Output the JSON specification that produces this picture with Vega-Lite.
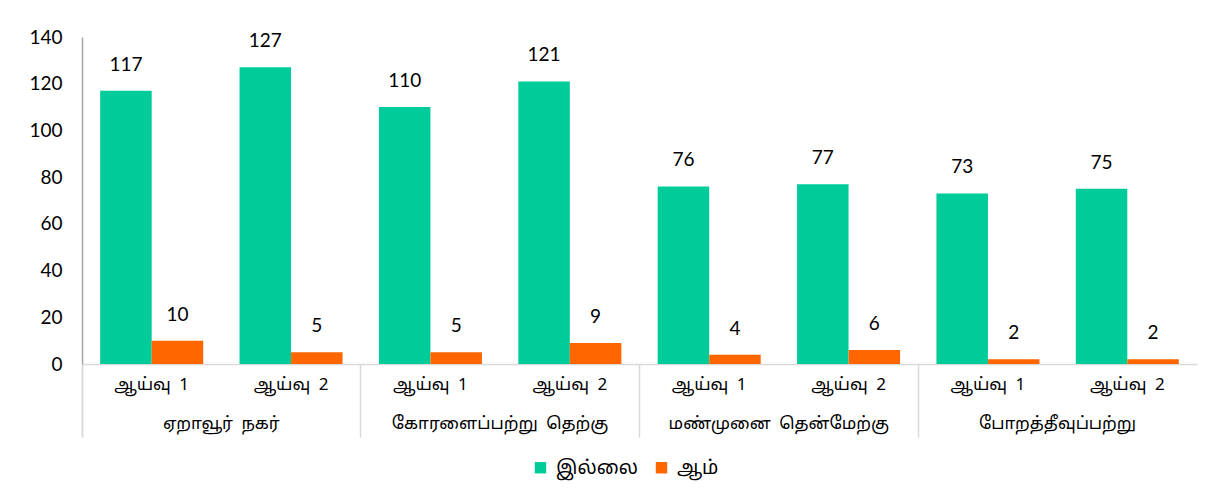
{
  "$schema": "https://vega.github.io/schema/vega-lite/v6.json",
  "width": 1115,
  "height": 327,
  "autosize": {"type": "none"},
  "padding": {"left": 82, "top": 37, "right": 34, "bottom": 138},
  "background": "white",
  "config": {"view": {"stroke": null}, "font": "Lato"},
  "data": {
    "values": [
      {"region": "ஏறாவூர்\u2002நகர்", "survey": "ஆய்வு\u20021", "series": "இல்லை", "value": 117},
      {"region": "ஏறாவூர்\u2002நகர்", "survey": "ஆய்வு\u20021", "series": "ஆம்", "value": 10},
      {"region": "ஏறாவூர்\u2002நகர்", "survey": "ஆய்வு\u20022", "series": "இல்லை", "value": 127},
      {"region": "ஏறாவூர்\u2002நகர்", "survey": "ஆய்வு\u20022", "series": "ஆம்", "value": 5},
      {"region": "கோரளைப்பற்று\u2002தெற்கு", "survey": "ஆய்வு\u20021", "series": "இல்லை", "value": 110},
      {"region": "கோரளைப்பற்று\u2002தெற்கு", "survey": "ஆய்வு\u20021", "series": "ஆம்", "value": 5},
      {"region": "கோரளைப்பற்று\u2002தெற்கு", "survey": "ஆய்வு\u20022", "series": "இல்லை", "value": 121},
      {"region": "கோரளைப்பற்று\u2002தெற்கு", "survey": "ஆய்வு\u20022", "series": "ஆம்", "value": 9},
      {"region": "மண்முனை\u2002தென்மேற்கு", "survey": "ஆய்வு\u20021", "series": "இல்லை", "value": 76},
      {"region": "மண்முனை\u2002தென்மேற்கு", "survey": "ஆய்வு\u20021", "series": "ஆம்", "value": 4},
      {"region": "மண்முனை\u2002தென்மேற்கு", "survey": "ஆய்வு\u20022", "series": "இல்லை", "value": 77},
      {"region": "மண்முனை\u2002தென்மேற்கு", "survey": "ஆய்வு\u20022", "series": "ஆம்", "value": 6},
      {"region": "போறத்தீவுப்பற்று", "survey": "ஆய்வு\u20021", "series": "இல்லை", "value": 73},
      {"region": "போறத்தீவுப்பற்று", "survey": "ஆய்வு\u20021", "series": "ஆம்", "value": 2},
      {"region": "போறத்தீவுப்பற்று", "survey": "ஆய்வு\u20022", "series": "இல்லை", "value": 75},
      {"region": "போறத்தீவுப்பற்று", "survey": "ஆய்வு\u20022", "series": "ஆம்", "value": 2}
    ]
  },
  "transform": [{"calculate": "datum.region + '|' + datum.survey", "as": "key"}],
  "layer": [
    {
      "encoding": {
        "x": {
          "field": "key", "type": "nominal", "sort": null,
          "scale": {"paddingInner": 0, "paddingOuter": 0},
          "axis": {
            "title": null, "labelAngle": 0, "ticks": false, "domain": true,
            "domainColor": "#d9d9d9", "domainWidth": 1.5,
            "labelExpr": "split(datum.label, '|')[1]",
            "labelPadding": 12, "labelFontSize": 17, "labelColor": "#000000",
            "labelLimit": 0,
            "labelFont": "Noto Sans Tamil, Lohit Tamil, serif"
          }
        },
        "xOffset": {
          "field": "series", "type": "nominal", "sort": ["இல்லை", "ஆம்"],
          "scale": {"paddingInner": 0, "paddingOuter": 0.353}
        },
        "y": {
          "field": "value", "type": "quantitative",
          "scale": {"domain": [0, 140]},
          "axis": {
            "title": null, "values": [0, 20, 40, 60, 80, 100, 120, 140],
            "grid": false, "ticks": false, "domain": true, "domainColor": "#a6a6a6",
            "domainWidth": 1.5, "labelPadding": 20, "labelFontSize": 19,
            "labelColor": "#000000", "labelFont": "Lato"
          }
        }
      },
      "layer": [
        {
          "mark": {"type": "bar"},
          "encoding": {
            "color": {
              "field": "series", "type": "nominal",
              "sort": ["இல்லை", "ஆம்"],
              "scale": {"domain": ["இல்லை", "ஆம்"], "range": ["#00CC99", "#FF6600"]},
              "legend": {
                "title": null, "orient": "none", "direction": "horizontal",
                "legendX": 449, "legendY": 421, "symbolType": "square",
                "symbolSize": 130, "symbolStrokeWidth": 0, "labelFontSize": 19,
                "labelFont": "Noto Sans Tamil, Lohit Tamil, serif",
                "labelColor": "#000000", "columnPadding": 14, "labelOffset": 6
              }
            }
          }
        },
        {
          "mark": {"type": "text", "baseline": "bottom", "dy": -16, "fontSize": 19, "font": "Lato", "color": "#000000"},
          "encoding": {"text": {"field": "value", "type": "quantitative"}}
        }
      ]
    },
    {
      "mark": {"type": "rule", "opacity": 0},
      "encoding": {
        "x": {
          "field": "region", "type": "nominal", "sort": null,
          "scale": {"paddingInner": 0, "paddingOuter": 0},
          "axis": {
            "title": null, "orient": "bottom", "labelAngle": 0, "domain": false,
            "ticks": true, "tickSize": 73, "tickColor": "#d9d9d9", "tickWidth": 1.5,
            "bandPosition": 0, "tickExtra": true, "labelLimit": 0,
            "labelPadding": -22, "labelFontSize": 17, "labelColor": "#000000",
            "labelFont": "Noto Sans Tamil, Lohit Tamil, serif"
          }
        }
      }
    }
  ],
  "resolve": {"scale": {"x": "independent"}, "axis": {"x": "independent"}}
}
